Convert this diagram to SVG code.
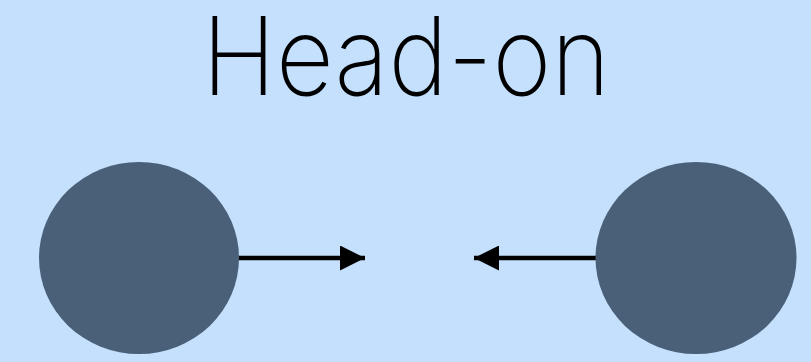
<svg xmlns="http://www.w3.org/2000/svg" width="811" height="362" viewBox="0 0 811 362">
<defs>
<style>
.ball{fill:#4a6078}
.conn{stroke:#000;stroke-width:4.5;fill:none}
.title{font-family:Inter,"Liberation Sans",sans-serif;font-weight:200;font-size:108px;fill:#000}
</style>
<marker id="ah" viewBox="0 0 25 25" refX="25" refY="12.5" markerWidth="25" markerHeight="25" markerUnits="userSpaceOnUse" orient="auto">
<path d="M0,0 L25,12.5 L0,25 Z" fill="#000"/>
</marker>
</defs>
<rect width="811" height="362" fill="#c4e0fd"/>
<text class="title" x="406" y="95" text-anchor="middle" textLength="408" lengthAdjust="spacingAndGlyphs">Head-on</text>
<g id="connectors">
<line class="conn" x1="238" y1="258" x2="365" y2="258" marker-end="url(#ah)"/>
<line class="conn" x1="597" y1="258" x2="474" y2="258" marker-end="url(#ah)"/>
</g>
<g id="left-ball"><ellipse class="ball" cx="139" cy="258" rx="100" ry="96"/></g>
<g id="right-ball"><ellipse class="ball" cx="696" cy="258" rx="100.5" ry="96"/></g>
</svg>
